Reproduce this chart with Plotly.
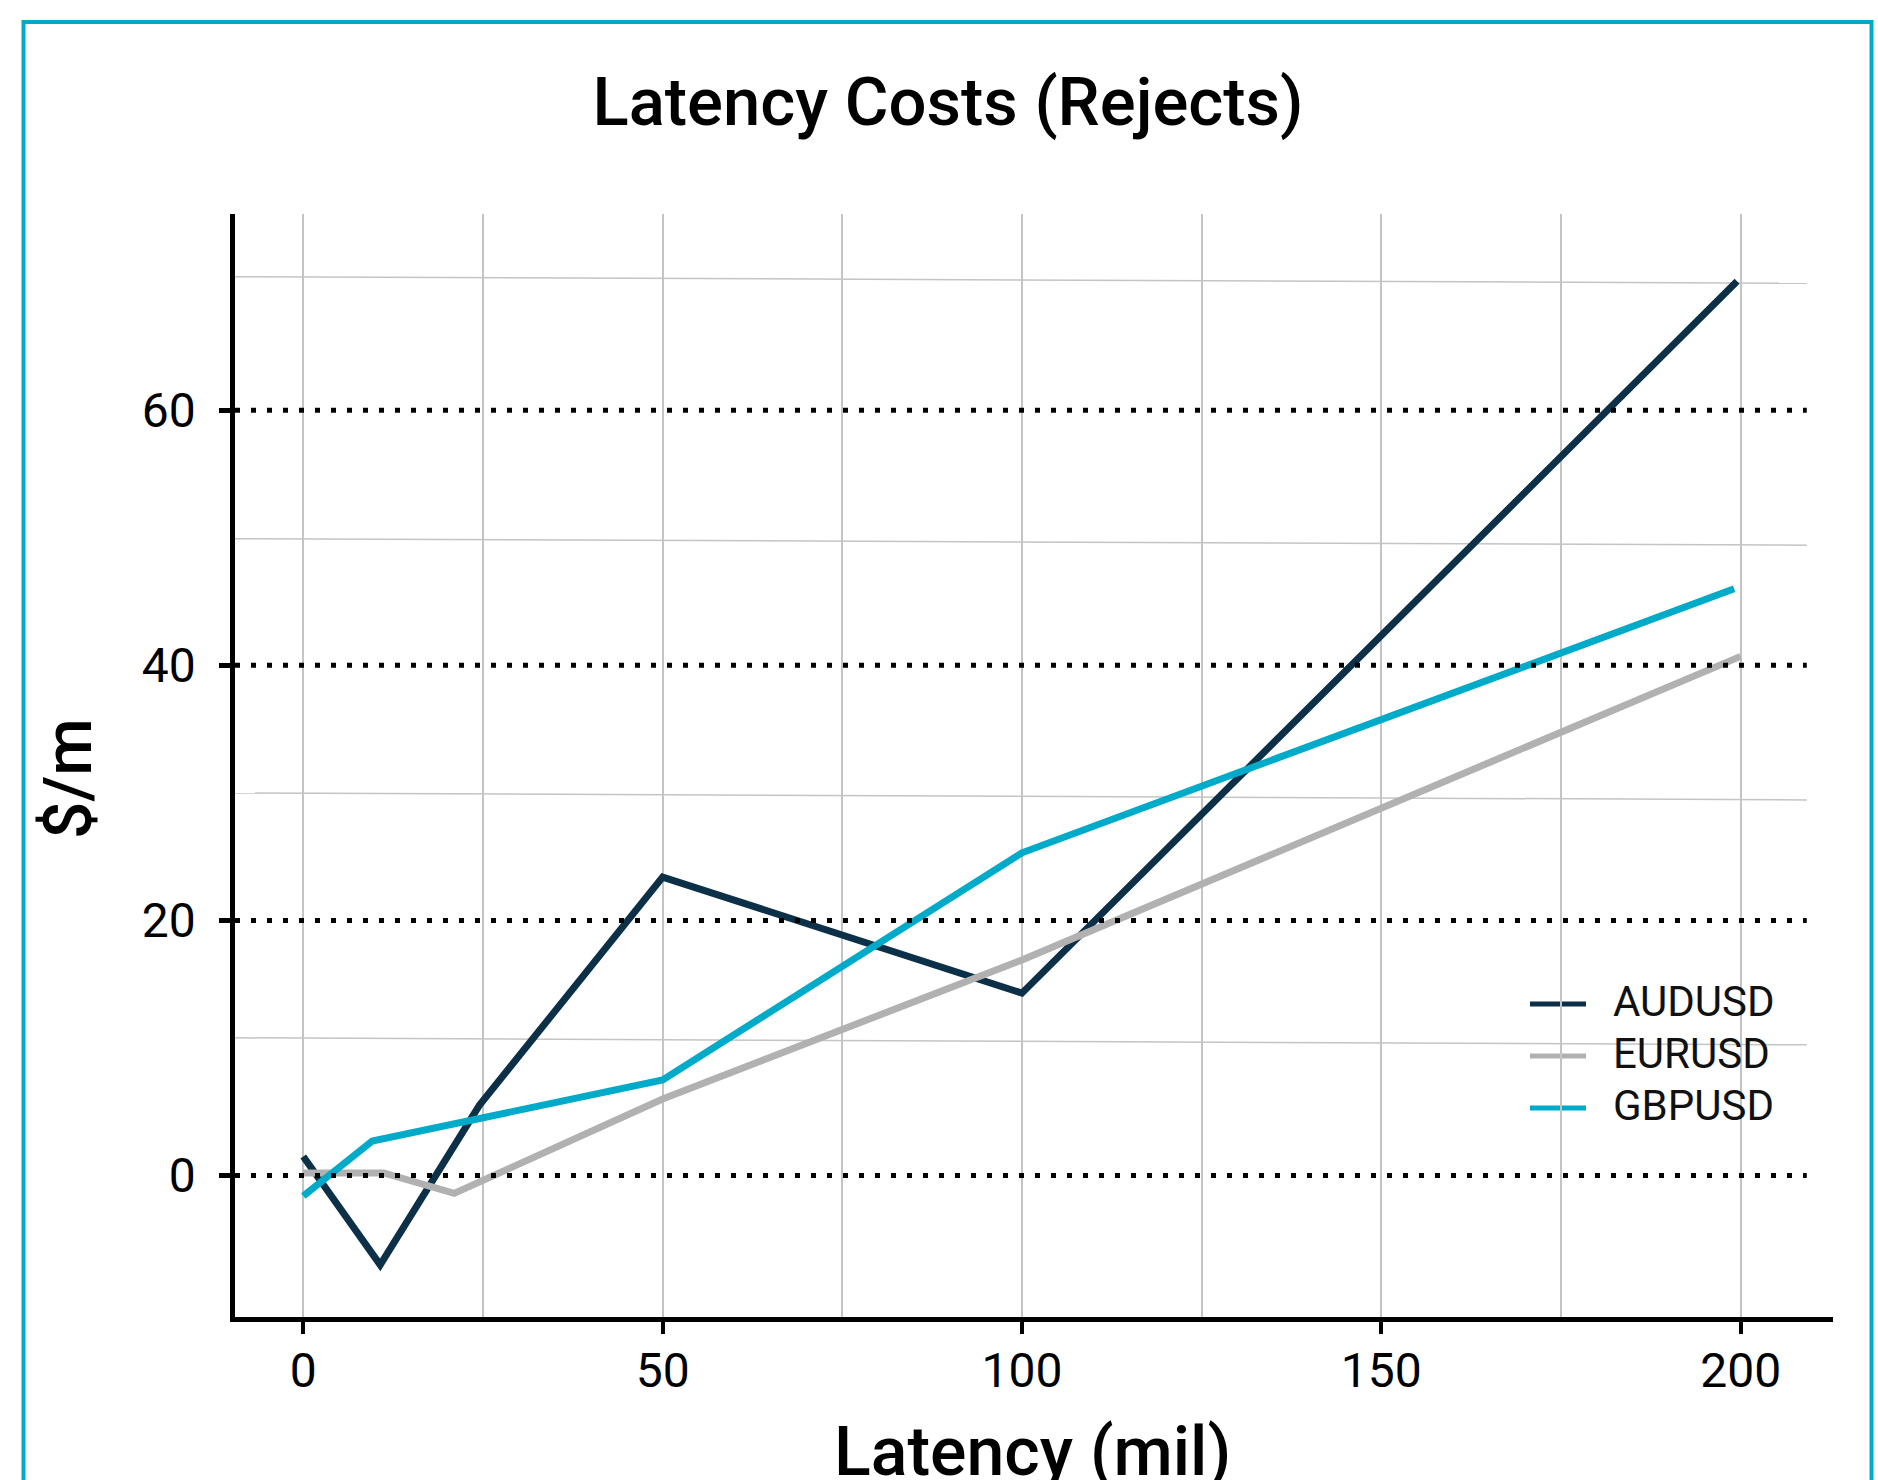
import plotly.graph_objects as go

# ---- data -------------------------------------------------------------
series_names = ["AUDUSD", "EURUSD", "GBPUSD"]

latency_aud = [0, 10.7, 24.5, 50, 100, 199.5]
cost_aud = [1.5, -7.0, 5.5, 23.4, 14.3, 70.1]

latency_eur = [0, 11.2, 21, 50, 100, 200]
cost_eur = [0.2, 0.2, -1.4, 6.0, 16.9, 40.7]

latency_gbp = [0, 9.6, 50, 100, 199.1]
cost_gbp = [-1.6, 2.7, 7.5, 25.3, 46.0]

x_ticks = [0, 50, 100, 150, 200]
x_minor = [25, 75, 125, 175]
y_ticks = [0, 20, 40, 60]

# ---- style --------------------------------------------------------------
NAVY = "#0b3048"
GREY = "#b1b1b1"
TEAL = "#00abc9"
GRID = "#c4c4c4"
FONT = "Roboto"

W, H = 1878, 1480
ML, MR, MT, MB = 235, 45, 214, 163
PW, PH = W - ML - MR, H - MT - MB


def fx(px):
    """pixel column -> paper x"""
    return (px - ML) / PW


def fy(py):
    """pixel row -> paper y"""
    return (H - MB - py) / PH


fig = go.Figure()

for name, xs, ys, color in [
    ("AUDUSD", latency_aud, cost_aud, NAVY),
    ("EURUSD", latency_eur, cost_eur, GREY),
    ("GBPUSD", latency_gbp, cost_gbp, TEAL),
]:
    fig.add_trace(go.Scatter(x=xs, y=ys, mode="lines", name=name,
                             line=dict(color=color, width=7),
                             showlegend=False))

shapes = []

# legend swatches (under the grid)
legend_rows = [1004, 1056, 1108]
for row, color in zip(legend_rows, [NAVY, GREY, TEAL]):
    shapes.append(dict(type="line", xref="paper", yref="paper",
                       x0=fx(1530), x1=fx(1586), y0=fy(row), y1=fy(row),
                       line=dict(color=color, width=5), layer="below"))

# light horizontal rules between the dotted levels
band_rules = [(70.47, 69.95), (49.93, 49.42), (30.0, 29.45), (10.8, 10.25)]
for y_left, y_right in band_rules:
    shapes.append(dict(type="line", xref="x", yref="y",
                       x0=-10.05, x1=209.2, y0=y_left, y1=y_right,
                       line=dict(color=GRID, width=1.5), layer="between"))

# dotted reference levels
for lvl in y_ticks:
    shapes.append(dict(type="line", xref="x", yref="y",
                       x0=-9.5, x1=209.2, y0=lvl, y1=lvl,
                       line=dict(color="black", width=5, dash="5px,11px"),
                       layer="above"))

# outer frame
shapes.append(dict(type="rect", xref="paper", yref="paper",
                   x0=fx(23.5), x1=fx(1871.5), y0=fy(1520), y1=fy(22),
                   line=dict(color=TEAL, width=4), fillcolor="rgba(0,0,0,0)",
                   layer="above"))

annotations = []
for row, name in zip(legend_rows, series_names):
    annotations.append(dict(text=name, xref="paper", yref="paper",
                            x=fx(1611), y=fy(row - 3), xanchor="left",
                            yanchor="middle", showarrow=False,
                            font=dict(family=FONT, size=42, color="#111111")))

annotations.append(dict(text="$/m", xref="paper", yref="paper",
                        x=fx(68), y=fy(779), textangle=-90,
                        xanchor="center", yanchor="middle", showarrow=False,
                        font=dict(family=FONT, size=66, color="black", weight=500)))

annotations.append(dict(text="Latency (mil)", xref="paper", yref="paper",
                        x=fx(1032), y=fy(1452), xanchor="center",
                        yanchor="middle", showarrow=False,
                        font=dict(family=FONT, size=68, color="black", weight=500)))

axis_common = dict(showline=True, linecolor="black", zeroline=False,
                   ticks="outside", tickcolor="black",
                   tickfont=dict(family=FONT, size=48, color="black"))

fig.update_layout(
    width=W, height=H, autosize=False,
    margin=dict(l=ML, r=MR, t=MT, b=MB),
    paper_bgcolor="white", plot_bgcolor="white",
    title=dict(text="Latency Costs (Rejects)", x=948 / W, xanchor="center",
               yref="container", y=1 - 102 / H, yanchor="middle",
               font=dict(family=FONT, size=67, color="black", weight=500)),
    xaxis=dict(range=[-9.5, 212.85], tickvals=x_ticks,
               ticktext=[str(v) for v in x_ticks],
               showgrid=True, gridcolor=GRID, gridwidth=1.5,
               minor=dict(tickvals=x_minor, showgrid=True, gridcolor=GRID,
                          gridwidth=1.5, ticks=""),
               linewidth=4.5, ticklen=12, tickwidth=4,
               ticklabelstandoff=-4, **axis_common),
    yaxis=dict(range=[-11.09, 75.38], tickvals=y_ticks,
               ticktext=[str(v) for v in y_ticks], showgrid=False,
               linewidth=4.5, ticklen=11, tickwidth=4.5,
               ticklabelstandoff=14, **axis_common),
    shapes=shapes,
    annotations=annotations,
    showlegend=False,
)

fig.write_html("out.html")
